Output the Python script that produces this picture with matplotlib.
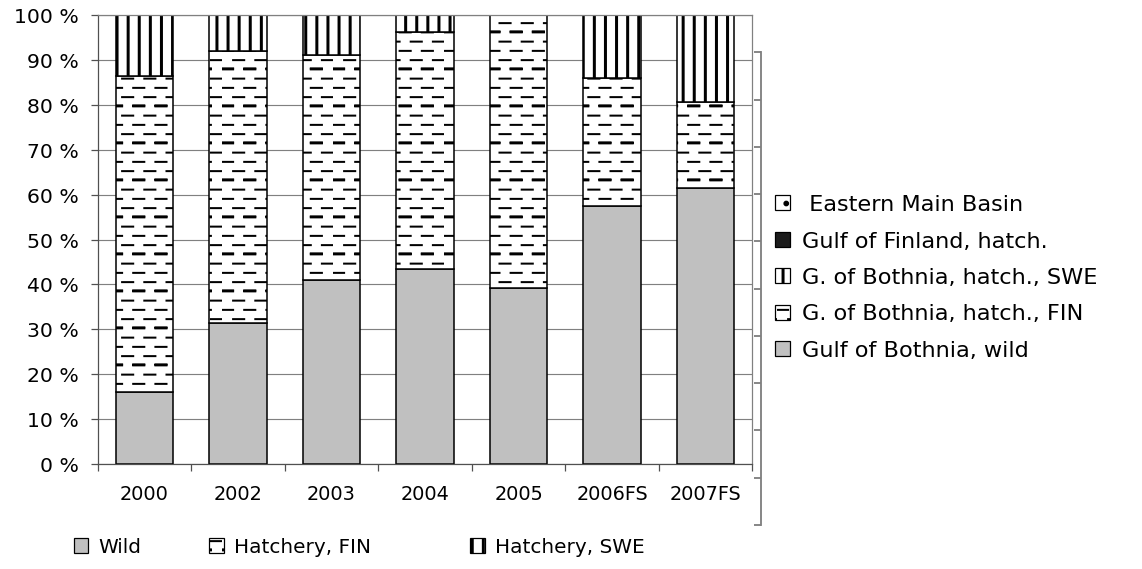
import numpy as np
import matplotlib
matplotlib.use('Agg')
import matplotlib.pyplot as plt
from matplotlib.patches import Patch
from matplotlib.path import Path
import matplotlib.hatch as mhatch

# ---------------- data ----------------
categories = ['2000', '2002', '2003', '2004', '2005', '2006FS', '2007FS']
wild = [16.0, 31.4, 41.0, 43.4, 39.3, 57.6, 61.5]
hatch_fin = [70.4, 60.6, 50.2, 52.9, 60.7, 28.5, 19.1]
hatch_swe = [13.6, 8.0, 8.8, 3.7, 0.0, 13.9, 19.4]
yticks = list(range(0, 101, 10))
ytick_labels = [f'{v} %' for v in yticks]
legend_right = [' Eastern Main Basin', 'Gulf of Finland, hatch.',
                'G. of Bothnia, hatch., SWE', 'G. of Bothnia, hatch., FIN',
                'Gulf of Bothnia, wild']
legend_bottom = ['Wild', 'Hatchery, FIN', 'Hatchery, SWE']

W, H = 1142, 569
DPI = 111


# ------------- custom hatch patterns (Excel-like) -------------
class DashHatch(mhatch.HatchPatternBase):
    """Staggered short horizontal dashes, every 4th row bold."""
    def __init__(self, hatch, density):
        segs = []
        if hatch.count('-') > 0:
            rows, per = 12, 5
            for k in range(rows):
                y = (k + 0.5) / rows
                off = 0.5 / per if k % 2 else 0.0
                ys = [y, y + 1.0 / DPI] if k % 4 == 0 else [y]
                for yy in ys:
                    for j in range(per):
                        x0 = j / per + off
                        segs.append((x0, yy, x0 + 0.5 / per, yy))
        self.segs = segs
        self.num_vertices = len(segs) * 2

    def set_vertices_and_codes(self, vertices, codes):
        for i, (x0, y0, x1, y1) in enumerate(self.segs):
            vertices[2 * i] = (x0, y0)
            vertices[2 * i + 1] = (x1, y1)
            codes[2 * i] = Path.MOVETO
            codes[2 * i + 1] = Path.LINETO


class VLineHatch(mhatch.HatchPatternBase):
    """Thick vertical lines."""
    def __init__(self, hatch, density):
        segs = []
        if hatch.count('|') > 0:
            n = 10
            for k in range(n):
                x = (k + 0.5) / n
                for xx in (x, x + 1.0 / DPI):
                    segs.append((xx, 0.0, xx, 1.0))
        self.segs = segs
        self.num_vertices = len(segs) * 2

    def set_vertices_and_codes(self, vertices, codes):
        for i, (x0, y0, x1, y1) in enumerate(self.segs):
            vertices[2 * i] = (x0, y0)
            vertices[2 * i + 1] = (x1, y1)
            codes[2 * i] = Path.MOVETO
            codes[2 * i + 1] = Path.LINETO


mhatch._hatch_types = [DashHatch if t is mhatch.HorizontalHatch
                       else VLineHatch if t is mhatch.VerticalHatch else t
                       for t in mhatch._hatch_types]

plt.rcParams['font.family'] = ['DejaVu Sans']
plt.rcParams['hatch.linewidth'] = 1.3
plt.rcParams['hatch.color'] = 'black'

fig = plt.figure(figsize=((W + 0.4) / DPI, (H + 0.4) / DPI), dpi=DPI)
fig.patch.set_facecolor('white')

left, right, top, bottom = 97.7, 752.0, 15.7, 464.0
ax = fig.add_axes([left / W, 1 - bottom / H, (right - left) / W, (bottom - top) / H])

x = np.arange(len(categories))
wild_a = np.array(wild)
fin_a = np.array(hatch_fin)
swe_a = np.array(hatch_swe)
bw = 0.62
gray = '#C0C0C0'

ax.bar(x, wild_a, bw, color=gray, edgecolor='black', linewidth=1.0, zorder=2)
ax.bar(x, fin_a, bw, bottom=wild_a, color='white', edgecolor='black',
       hatch='-', linewidth=1.0, zorder=2)
ax.bar(x, swe_a, bw, bottom=wild_a + fin_a, color='white', edgecolor='black',
       hatch='|', linewidth=1.0, zorder=2)

ax.set_xlim(-0.5, len(categories) - 0.5)
ax.set_ylim(0, 100)
ax.set_yticks(yticks)
ax.set_yticklabels(ytick_labels)
ax.set_xticks(x)
ax.set_xticklabels(categories)
ax.set_xticks(np.arange(-0.5, len(categories), 1.0), minor=True)

ax.yaxis.grid(True, color='#808080', linewidth=0.75)
ax.set_axisbelow(True)

for s in ['top', 'right']:
    ax.spines[s].set_color('#808080')
    ax.spines[s].set_linewidth(0.8)
for s in ['left', 'bottom']:
    ax.spines[s].set_color('#505050')
    ax.spines[s].set_linewidth(0.8)

ax.tick_params(axis='y', direction='out', length=4.5, width=0.8, color='#505050',
               pad=8.0, labelsize=13.2, labelcolor='black')
ax.tick_params(axis='x', which='major', length=0, pad=13.5, labelsize=12.5,
               labelcolor='black')
ax.tick_params(axis='x', which='minor', direction='out', length=4.5, width=0.8,
               color='#505050')

# ghost secondary axis (Excel artefact)
gx, gtop, gbot = 760.7, 52.7, 525.0
ax2 = fig.add_axes([gx / W, 1 - gbot / H, 0.0005, (gbot - gtop) / H])
ax2.patch.set_visible(False)
for s in ['top', 'right', 'bottom']:
    ax2.spines[s].set_visible(False)
ax2.spines['left'].set_color('#808080')
ax2.spines['left'].set_linewidth(1.2)
ax2.set_ylim(0, 10)
ax2.set_yticks(range(11))
ax2.set_yticklabels([])
ax2.set_xticks([])
ax2.tick_params(axis='y', direction='out', length=4.5, width=1.2, color='#808080')

# right legend
handles_r = [Patch(facecolor='white', edgecolor='black', hatch='.', linewidth=0.8),
             Patch(facecolor='#1c1c1c', edgecolor='black', linewidth=0.8),
             Patch(facecolor='white', edgecolor='black', hatch='|', linewidth=0.8),
             Patch(facecolor='white', edgecolor='black', hatch='-', linewidth=0.8),
             Patch(facecolor=gray, edgecolor='black', linewidth=0.8)]
fig.legend(handles_r, legend_right, loc='upper left',
           bbox_to_anchor=(775 / W, 1 - 195 / H), frameon=False, fontsize=14.5,
           handlelength=0.65, handleheight=0.65, handletextpad=0.55,
           labelspacing=0.735, borderpad=0, borderaxespad=0)

# bottom legend (one entry per slot, as laid out in the original)
handles_b = [Patch(facecolor=gray, edgecolor='black', linewidth=0.8),
             Patch(facecolor='white', edgecolor='black', hatch='-', linewidth=0.8),
             Patch(facecolor='white', edgecolor='black', hatch='|', linewidth=0.8)]
slots_px = [74, 209, 470]
for h, lab, px in zip(handles_b, legend_bottom, slots_px):
    fig.legend([h], [lab], loc='center left',
               bbox_to_anchor=(px / W, 1 - 547 / H), frameon=False, fontsize=13,
               handlelength=0.72, handleheight=0.72, handletextpad=0.5,
               borderpad=0, borderaxespad=0)

fig.savefig('out.png', dpi=DPI, facecolor='white')
